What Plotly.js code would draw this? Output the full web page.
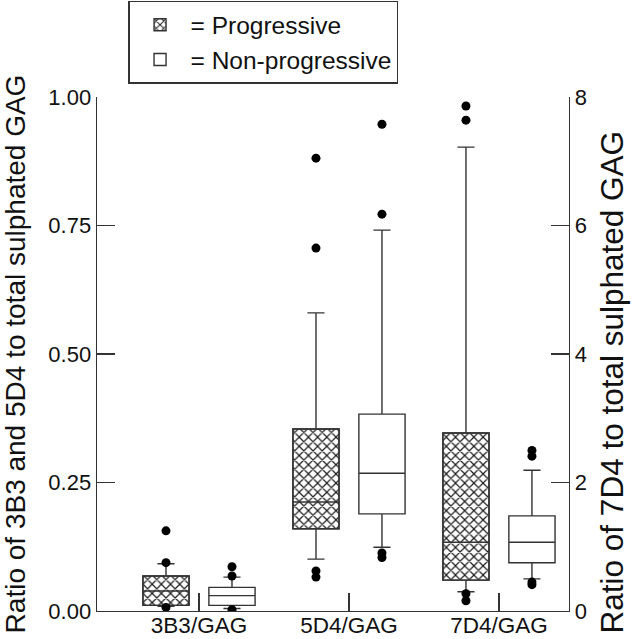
<!DOCTYPE html>
<html>
<head>
<meta charset="utf-8">
<script src="https://cdn.plot.ly/plotly-3.0.1.min.js"></script>
<style>html,body{margin:0;padding:0;background:#fff;}#chart{width:640px;height:639px;}</style>
</head>
<body>
<div id="chart"></div>
<script>
// ---- data ----
var categories = ['3B3/GAG', '5D4/GAG', '7D4/GAG'];
// 3B3 and 5D4 are on the left axis (ratio 0-1); 7D4 on the right axis (0-8)
var progQ1     = [0.011, 0.160, 0.48];
var progMedian = [0.039, 0.212, 1.07];
var progQ3     = [0.068, 0.354, 2.77];
var progLow    = [0.009, 0.101, 0.30];
var progHigh   = [0.092, 0.580, 7.22];
var progOutliers = [[0.007, 0.094, 0.156], [0.066, 0.078, 0.706, 0.881], [0.16, 0.27, 7.64, 7.86]];

var nonQ1     = [0.011, 0.189, 0.75];
var nonMedian = [0.030, 0.268, 1.07];
var nonQ3     = [0.046, 0.383, 1.48];
var nonLow    = [0.005, 0.124, 0.50];
var nonHigh   = [0.066, 0.741, 2.19];
var nonOutliers = [[0.0025, 0.068, 0.086], [0.104, 0.113, 0.772, 0.947], [0.41, 0.45, 2.41, 2.50]];

var yTickVals = [0, 0.25, 0.5, 0.75, 1];
var y2TickVals = [0, 2, 4, 6, 8];

// ---- helpers ----
var LINE = '#333';
var FONT = 'Liberation Sans, Arial, sans-serif';
function pick(arr, idx) { return idx.map(function (i) { return arr[i]; }); }
var leftIdx = [0, 1], rightIdx = [2];

function boxTrace(name, grp, idx, q1, med, q3, lo, hi, out, fill, yaxis, show) {
  return {
    type: 'box', name: name, legendgroup: grp, showlegend: show,
    offsetgroup: grp, alignmentgroup: 'all',
    x: pick(categories, idx),
    q1: pick(q1, idx), median: pick(med, idx), q3: pick(q3, idx),
    lowerfence: pick(lo, idx), upperfence: pick(hi, idx),
    y: pick(out, idx),
    boxpoints: 'outliers', pointpos: 0, jitter: 0,
    marker: {color: '#000', size: 9},
    line: {color: LINE, width: 1.4},
    fillcolor: fill, whiskerwidth: 0.37,
    yaxis: yaxis, hoverinfo: 'skip'
  };
}
function hatchTrace(idx, yaxis, show) {
  var q1 = pick(progQ1, idx), q3 = pick(progQ3, idx);
  return {
    type: 'bar', name: '= Progressive', legendgroup: 'prog', showlegend: show,
    x: pick(categories, idx), base: q1,
    y: q3.map(function (v, i) { return v - q1[i]; }),
    width: 0.307, offset: -0.3735,
    marker: {color: '#fff', line: {color: LINE, width: 1.4},
             pattern: {shape: 'x', fgcolor: '#1a1a1a', bgcolor: '#fff', size: 6.5, solidity: 0.33}},
    yaxis: yaxis, hoverinfo: 'skip'
  };
}

var traces = [
  hatchTrace(leftIdx, 'y', true),
  hatchTrace(rightIdx, 'y2', false),
  boxTrace('= Progressive', 'prog', leftIdx, progQ1, progMedian, progQ3, progLow, progHigh, progOutliers, 'rgba(0,0,0,0)', 'y', false),
  boxTrace('= Non-progressive', 'non', leftIdx, nonQ1, nonMedian, nonQ3, nonLow, nonHigh, nonOutliers, '#fff', 'y', true),
  boxTrace('= Progressive', 'prog', rightIdx, progQ1, progMedian, progQ3, progLow, progHigh, progOutliers, 'rgba(0,0,0,0)', 'y2', false),
  boxTrace('= Non-progressive', 'non', rightIdx, nonQ1, nonMedian, nonQ3, nonLow, nonHigh, nonOutliers, '#fff', 'y2', false)
];

var axisCommon = {
  showline: true, linecolor: LINE, linewidth: 1.4,
  ticks: 'inside', ticklen: 18, tickwidth: 1.4, tickcolor: LINE,
  showgrid: false, zeroline: false, fixedrange: true,
  tickfont: {family: FONT, size: 22, color: '#111'}
};

var layout = {
  width: 640, height: 639,
  margin: {l: 97, r: 71, t: 97, b: 28, pad: 0, autoexpand: false},
  paper_bgcolor: '#fff', plot_bgcolor: '#fff',
  font: {family: FONT, color: '#111'},
  boxmode: 'group', boxgap: 0.12, boxgroupgap: 0.30,
  barmode: 'overlay',
  xaxis: Object.assign({}, axisCommon, {
    type: 'category', categoryorder: 'array', categoryarray: categories,
    range: [-0.68, 2.467], ticklabelstandoff: -6,
    tickfont: {family: FONT, size: 22.5, color: '#111'}
  }),
  yaxis: Object.assign({}, axisCommon, {
    range: [0, 1], tickvals: yTickVals, tickformat: '.2f',
    title: {text: 'Ratio of 3B3 and 5D4 to total sulphated GAG', font: {family: FONT, size: 28, color: '#111'}, standoff: 18}
  }),
  yaxis2: Object.assign({}, axisCommon, {
    overlaying: 'y', side: 'right', range: [0, 8], tickvals: y2TickVals
  }),
  annotations: [{
    text: 'Ratio of 7D4 to total sulphated GAG', textangle: -90,
    xref: 'paper', yref: 'paper', x: 1.092, y: 0.4455, xanchor: 'center', yanchor: 'middle',
    showarrow: false, font: {family: FONT, size: 31.5, color: '#111'}
  }],
  showlegend: true,
  legend: {
    x: 0.066, y: 1.187, xanchor: 'left', yanchor: 'top',
    bgcolor: '#fff', bordercolor: LINE, borderwidth: 1.4, itemwidth: 51,
    font: {family: FONT, size: 24.5, color: '#111'},
    traceorder: 'normal', itemclick: false, itemdoubleclick: false
  }
};

Plotly.newPlot('chart', traces, layout, {staticPlot: true, displayModeBar: false});
</script>
</body>
</html>
